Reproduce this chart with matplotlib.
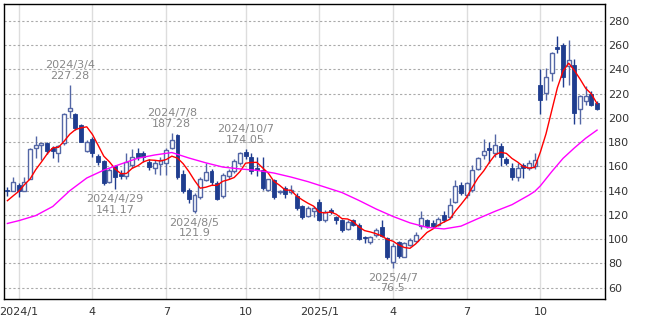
import numpy as np
import pandas as pd
import matplotlib
matplotlib.use("Agg")
import matplotlib.pyplot as plt

# weekly candles, one per Monday
weeks = pd.date_range("2023-12-18", "2025-12-15", freq="W-MON")

opens = [140.5, 140, 145, 140, 150, 175, 178, 179, 175.5, 171,
         179, 206, 203, 194, 173, 183, 168.5, 164.5, 147.5, 160,
         154, 152, 161, 171, 171, 163.5, 158.5, 162, 162.6, 175,
         186, 154, 140.5, 123, 135, 149, 156, 146, 136, 152,
         156, 163, 172, 168, 158.5, 157, 141, 149, 138.8, 142,
         139, 136, 127.5, 119.5, 123, 130.5, 115.5, 124, 118, 116,
         108.5, 116, 112, 101.5, 98, 103.5, 110, 101, 81, 97.5,
         85.5, 95.5, 98.5, 110.5, 116, 113.5, 112, 120, 118.6, 131,
         144.5, 136.5, 140.5, 158, 169.5, 175, 171, 176.5, 166, 158.5,
         151.5, 161, 158.5, 160, 227, 220.5, 237, 258.5, 260, 242.5,
         243.5, 207, 214, 220, 212.5]
highs = [143, 151.5, 146, 151, 175, 185, 179.5, 180, 177, 178,
         204, 227.28, 204, 195, 182, 184, 170, 165.5, 158.5, 161,
         157, 171, 174, 175, 173, 166, 165, 168, 175, 187.28,
         187, 157.5, 142, 138, 151, 162.5, 158, 148, 155, 158,
         166, 172, 174.05, 171, 167.5, 168, 150, 150, 141, 144,
         145, 138, 128, 127, 127, 133, 124, 125.5, 119.5, 117,
         115.5, 117, 113, 103, 103, 109.5, 116, 102, 97, 98.5,
         98, 101, 106, 123, 117, 116, 118, 123, 134, 149,
         147.5, 147.5, 161, 168, 182.5, 180.5, 187, 179, 167.5, 162.5,
         163, 162.5, 165, 171, 240.5, 241, 254.5, 267.8, 262, 264,
         249, 219, 226, 222, 214]
lows = [136, 139.5, 135, 139.5, 149.5, 167, 165.5, 170, 167, 163.5,
        178, 200, 190, 180, 172, 168, 161, 145, 146, 141.17,
        150, 150, 159, 165, 163.5, 157, 154, 153, 153, 174,
        150, 138, 129.5, 121.9, 133, 148, 145, 132, 134, 150,
        155, 161, 166, 154, 152, 141, 140, 133, 137, 134,
        137, 124, 117, 118, 118.5, 115, 114, 120.5, 112.5, 106,
        107.5, 110.5, 99, 97, 96, 102, 102, 84, 76.5, 84.5,
        85, 94.5, 98, 108.5, 109, 109, 111, 114.5, 117, 129.5,
        136.5, 134, 139, 157, 166, 162.5, 168, 160, 161, 149,
        148, 150.5, 157, 158, 203.5, 215, 230.5, 253.5, 225.5, 227,
        195, 195, 211, 209.5, 206.5]
closes = [139.5, 147.5, 139.5, 147.5, 174.5, 178, 179, 172.5, 173, 176.5,
          203, 208, 191.5, 180.5, 180.5, 171.5, 163.5, 146.5, 157, 151.5,
          152, 164, 168, 167.5, 168, 159.5, 162.5, 165, 173.5, 182,
          151.6, 139.5, 133, 136.5, 150, 155.7, 147, 133.5, 153, 156.3,
          164.5, 171, 168.7, 156, 157, 142, 149.5, 134.6, 139.3, 137.5,
          141, 126, 118.6, 125.5, 125.5, 116, 122.8, 122.5, 116, 107.5,
          114.5, 112, 100.5, 100.8, 102, 107.5, 103, 85.5, 94, 86.5,
          97, 99.5, 103.5, 117.3, 110.5, 110.5, 116.5, 116, 128.3, 144,
          138.5, 146.5, 157, 167, 172.5, 173.5, 177.5, 168, 162.6, 151.5,
          158.5, 158.5, 162.5, 165, 215, 234, 253.5, 256.8, 234, 247.5,
          204, 218, 218.5, 211, 207.5]

# 5-week moving average (red), one value per week
ma5 = [131.8, 135.7, 139.5, 145, 149.7, 157.4, 163.7, 170.3, 175.4, 175.8,
       180.8, 186.6, 190.4, 191.9, 192.7, 186.4, 177.5, 168.5, 163.8, 158,
       154.1, 154.2, 158.5, 160.6, 163.9, 165.4, 165.1, 164.5, 165.7, 168.5,
       166.9, 162.3, 155.9, 148.5, 142.1, 142.9, 144.4, 144.5, 147.8, 149.1,
       150.9, 155.7, 162.7, 163.3, 163.4, 158.9, 154.6, 147.8, 144.5, 140.6,
       140.4, 135.7, 132.5, 129.7, 127.3, 122.3, 121.7, 122.5, 120.6, 117,
       116.7, 114.5, 110.1, 107.1, 106, 104.6, 102.8, 99.8, 98.4, 95.3,
       93.2, 92.5, 96.1, 100.8, 105.6, 108.3, 111.7, 114.2, 116.4, 123.1,
       128.7, 134.7, 142.9, 150.6, 156.3, 163.3, 169.5, 171.7, 170.8, 166.6,
       163.6, 159.8, 158.7, 159.2, 171.9, 187, 206, 224.9, 238.7, 245.2,
       239.2, 232.1, 224.4, 219.8, 211.8]

# 26-week moving average (magenta), read at some weeks
ma26_dates = ["2023-12-18", "2024-01-01", "2024-01-22", "2024-02-12", "2024-03-04",
              "2024-03-25", "2024-04-15", "2024-05-06", "2024-05-27", "2024-06-17",
              "2024-07-08", "2024-07-29", "2024-08-19", "2024-09-09", "2024-09-30",
              "2024-10-21", "2024-11-11", "2024-12-02", "2024-12-23", "2025-01-13",
              "2025-02-03", "2025-02-24", "2025-03-17", "2025-04-07", "2025-04-28",
              "2025-05-19", "2025-06-09", "2025-06-30", "2025-07-21", "2025-08-11",
              "2025-09-01", "2025-09-22", "2025-09-29", "2025-10-06", "2025-10-20",
              "2025-11-03", "2025-11-17", "2025-12-01", "2025-12-15"]
ma26 = [113, 115.3, 119.5, 127, 140, 150.5, 157, 162, 166.8, 169.5,
        171.5, 167, 163, 159.5, 158, 156.8, 154.6, 151.3, 147.5, 143,
        138.5, 132, 125, 118.8, 113.5, 109.8, 108.5, 110.8, 117, 123,
        128.5, 136.4, 139.4, 144, 155.7, 166.7, 175.3, 183.3, 190]

note_dates = ["2024-03-04", "2024-07-08", "2024-10-07", "2024-04-29", "2024-08-05", "2025-04-07"]
note_kind = ["high", "high", "high", "low", "low", "low"]

x = np.arange(len(weeks))
o = np.array(opens)
c = np.array(closes)
up = c >= o

fig = plt.figure(figsize=(6.5, 3.25), dpi=100)
ax = fig.add_axes([4 / 650, 26 / 325, 601 / 650, 295 / 325])

dark = "#1f3d8f"
light = "#5467a6"

# wicks
ax.vlines(x[~up], np.array(lows)[~up], np.array(highs)[~up], color=dark, lw=1, zorder=2)
ax.vlines(x[up], np.array(lows)[up], np.array(highs)[up], color=light, lw=1, zorder=2)
# bodies
ax.bar(x[~up], (o - c)[~up], bottom=c[~up], width=0.7, color=dark, edgecolor=dark, lw=0.6, zorder=3)
ax.bar(x[up], np.maximum((c - o)[up], 0.6), bottom=o[up], width=0.7, color="white",
       edgecolor=light, lw=1, zorder=3)

ax.plot(x, ma5, color="#ff0000", lw=1, zorder=4)
pos26 = [weeks.get_loc(pd.Timestamp(d)) for d in ma26_dates]
ax.plot(pos26, ma26, color="#ff00ff", lw=1, zorder=4)

for d, k in zip(note_dates, note_kind):
    p = weeks.get_loc(pd.Timestamp(d))
    ts = pd.Timestamp(d)
    v = highs[p] if k == "high" else lows[p]
    label = f"{ts.year}/{ts.month}/{ts.day}\n{v:g}"
    if k == "high":
        ax.annotate(label, (p, v), xytext=(0, 3), textcoords="offset points",
                    ha="center", va="bottom", fontsize=8, color="#888888", linespacing=1.1)
    else:
        ax.annotate(label, (p, v), xytext=(0, -3.5), textcoords="offset points",
                    ha="center", va="top", fontsize=8, color="#888888", linespacing=1.1)

# quarter ticks at the first Monday of Jan/Apr/Jul/Oct
tick_pos, tick_lab = [], []
for i, d in enumerate(weeks):
    if d.month in (1, 4, 7, 10) and d.day <= 7:
        tick_pos.append(i)
        tick_lab.append(f"{d.year}/1" if d.month == 1 else str(d.month))
ax.set_xticks(tick_pos)
ax.set_xticklabels(tick_lab)
ax.set_xlim(-0.6, len(weeks) + 0.4)
ax.set_ylim(50.7, 294)
ax.set_yticks(np.arange(60, 281, 20))

ax.yaxis.tick_right()
ax.tick_params(axis="y", length=0, pad=2, labelsize=8, labelcolor="#333333")
ax.tick_params(axis="x", length=0, pad=6, labelsize=8, labelcolor="#333333")
ax.grid(axis="y", color="#aaaaaa", lw=0.8, ls=(0, (2, 2)))
ax.grid(axis="x", color="#dddddd", lw=1, ls="-")
ax.set_axisbelow(True)
for s in ax.spines.values():
    s.set_color("black")
    s.set_linewidth(1)

fig.savefig("out.png", dpi=100)
